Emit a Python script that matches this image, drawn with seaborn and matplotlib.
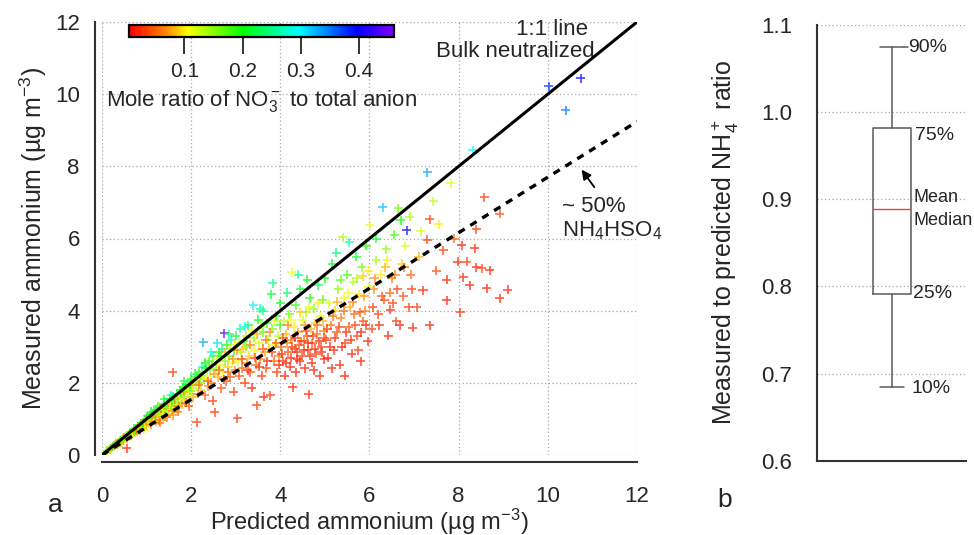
import numpy as np
import pandas as pd
import matplotlib
matplotlib.use("Agg")
import matplotlib.pyplot as plt
import seaborn as sns
from matplotlib.colors import LinearSegmentedColormap, Normalize
from matplotlib.cm import ScalarMappable

# ---------------- data ----------------
pred_nh4 = [
    0.10, 0.15, 0.18, 0.22, 0.25, 0.28, 0.30, 0.33, 0.35, 0.38, 0.40, 0.42, 0.45, 0.47, 0.50, 0.52, 0.55, 0.57,
    0.60, 0.62, 0.64, 0.66, 0.68, 0.70, 0.72, 0.74, 0.76, 0.78, 0.80, 0.82, 0.84, 0.86, 0.88, 0.90, 0.92, 0.94,
    0.96, 0.98, 0.56, 0.95, 0.35, 0.45, 0.65, 0.75, 0.85,
    1.00, 1.02, 1.05, 1.08, 1.10, 1.12, 1.15, 1.18, 1.20, 1.22, 1.25, 1.28, 1.30, 1.32, 1.35, 1.38, 1.40, 1.42,
    1.45, 1.48, 1.50, 1.52, 1.55, 1.58, 1.60, 1.62, 1.65, 1.68, 1.70, 1.72, 1.75, 1.78, 1.80, 1.82, 1.85, 1.88,
    1.90, 1.92, 1.95, 1.98, 1.25, 1.55, 1.85, 1.59, 1.45, 1.70, 1.95, 1.30, 1.60, 1.10, 1.40,
    2.00, 2.02, 2.05, 2.08, 2.10, 2.13, 2.15, 2.18, 2.20, 2.22, 2.25, 2.27, 2.28, 2.30, 2.32, 2.35, 2.38, 2.40,
    2.42, 2.45, 2.48, 2.50, 2.53, 2.55, 2.58, 2.60, 2.62, 2.65, 2.68, 2.70, 2.72, 2.74, 2.76, 2.78, 2.80, 2.82,
    2.85, 2.88, 2.90, 2.92, 2.95, 2.97, 2.99, 2.45, 2.85,
    3.00, 3.03, 3.05, 3.08, 3.10, 3.12, 3.15, 3.18, 3.20, 3.22, 3.25, 3.28, 3.30, 3.33, 3.36, 3.39, 3.40, 3.42,
    3.45, 3.47, 3.50, 3.52, 3.55, 3.58, 3.60, 3.62, 3.63, 3.65, 3.68, 3.70, 3.72, 3.75, 3.77, 3.80, 3.82, 3.85,
    3.88, 3.90, 3.92, 3.95, 3.97, 3.99, 3.83, 3.55, 3.20,
    4.00, 4.02, 4.05, 4.08, 4.10, 4.12, 4.15, 4.18, 4.20, 4.22, 4.25, 4.26, 4.28, 4.30, 4.32, 4.35, 4.38, 4.40,
    4.42, 4.45, 4.48, 4.50, 4.52, 4.55, 4.58, 4.60, 4.62, 4.64, 4.66, 4.68, 4.70, 4.72, 4.75, 4.78, 4.80, 4.82,
    4.85, 4.88, 4.90, 4.92, 4.95, 4.97, 4.99, 4.40, 4.60, 4.15, 4.35, 4.55, 4.75, 4.95,
    5.00, 5.03, 5.06, 5.10, 5.13, 5.16, 5.20, 5.23, 5.26, 5.30, 5.33, 5.36, 5.40, 5.43, 5.46, 5.50, 5.53, 5.56,
    5.60, 5.63, 5.66, 5.70, 5.73, 5.76, 5.80, 5.83, 5.86, 5.90, 5.93, 5.96, 5.98, 5.25, 5.55, 5.15, 5.45, 5.75,
    5.85, 5.35,
    6.01, 6.05, 6.10, 6.15, 6.20, 6.25, 6.30, 6.33, 6.38, 6.42, 6.46, 6.50, 6.55, 6.60, 6.64, 6.68, 6.72, 6.76,
    6.80, 6.84, 6.88, 6.92, 6.97, 6.35, 6.70, 6.15, 6.45, 6.90,
    7.06, 7.10, 7.15, 7.20, 7.29, 7.29, 7.35, 7.35, 7.43, 7.50, 7.55, 7.65, 7.73, 7.73, 7.82, 7.90, 7.98, 8.03,
    8.07, 8.10, 8.18, 8.25, 8.32, 8.36, 8.39, 8.40, 8.52, 8.57, 8.63, 8.70, 8.92, 8.92, 9.10,
    10.02, 10.40, 10.74,
    # second pass (denser parts of the cloud)
    0.12, 0.20, 0.27, 0.32, 0.37, 0.43, 0.48, 0.53, 0.58, 0.63, 0.67, 0.71, 0.77, 0.81, 0.87, 0.91, 0.97, 0.99,
    1.03, 1.07, 1.13, 1.17, 1.23, 1.27, 1.33, 1.37, 1.43, 1.47, 1.53, 1.57, 1.63, 1.67, 1.73, 1.77, 1.83, 1.87,
    1.93, 1.97,
    2.03, 2.12, 2.17, 2.23, 2.33, 2.37, 2.47, 2.52, 2.57, 2.63, 2.67, 2.73, 2.77, 2.83, 2.87, 2.93, 2.98,
    3.02, 3.07, 3.13, 3.17, 3.23, 3.27, 3.32, 3.37, 3.43, 3.48, 3.53, 3.57, 3.61, 3.67, 3.71, 3.76, 3.81, 3.86,
    3.91, 3.96,
    4.03, 4.07, 4.13, 4.17, 4.23, 4.27, 4.33, 4.37, 4.43, 4.47, 4.53, 4.57, 4.63, 4.67, 4.73, 4.77, 4.83, 4.87,
    4.93, 4.98, 4.45, 4.65, 4.85, 4.25,
    5.05, 5.12, 5.18, 5.22, 5.28, 5.32, 5.38, 5.42, 5.48, 5.52, 5.58, 5.62, 5.68, 5.72, 5.78, 5.82, 5.88, 5.92,
    5.97,
    6.07, 6.12, 6.22, 6.28, 6.40, 6.52, 6.58, 6.62, 6.78, 6.95,
]

meas_nh4 = [
    0.09, 0.14, 0.16, 0.20, 0.24, 0.25, 0.29, 0.28, 0.34, 0.33, 0.39, 0.36, 0.44, 0.40, 0.49, 0.45, 0.53, 0.47,
    0.58, 0.52, 0.63, 0.55, 0.66, 0.60, 0.73, 0.62, 0.74, 0.66, 0.80, 0.70, 0.78, 0.69, 0.88, 0.76, 0.86, 0.80,
    0.97, 0.83, 0.19, 0.70, 0.30, 0.38, 0.60, 0.68, 0.82,
    0.95, 1.08, 0.88, 1.02, 0.85, 1.15, 0.98, 1.10, 0.92, 1.25, 1.05, 0.96, 1.30, 1.12, 1.02, 1.40, 1.20, 1.08,
    1.45, 1.28, 1.15, 1.55, 1.35, 1.22, 1.62, 1.42, 1.30, 1.70, 1.48, 1.35, 1.80, 1.55, 1.40, 1.88, 1.62, 1.45,
    1.95, 1.70, 1.52, 1.78, 1.35, 1.65, 2.05, 2.30, 1.05, 1.20, 1.35, 0.90, 1.10, 1.20, 1.55,
    2.10, 1.85, 1.60, 2.25, 1.95, 0.91, 1.70, 2.30, 2.00, 1.80, 2.45, 3.13, 2.10, 1.65, 2.55, 2.20, 1.90, 2.60,
    2.35, 2.00, 1.50, 2.75, 1.19, 2.40, 3.10, 2.15, 2.85, 2.50, 1.85, 2.95, 2.30, 3.38, 2.60, 2.05, 3.05, 2.45,
    2.75, 2.15, 3.20, 2.55, 1.75, 2.90, 2.35, 2.85, 3.35,
    3.30, 1.02, 2.60, 2.20, 3.50, 2.85, 2.40, 3.15, 2.00, 3.00, 2.55, 3.60, 2.75, 2.30, 1.86, 4.15, 3.25, 2.90,
    2.50, 1.38, 3.75, 3.10, 2.65, 2.20, 4.00, 3.40, 1.61, 2.85, 2.40, 3.65, 3.20, 2.95, 1.66, 4.45, 3.50, 2.60,
    3.05, 3.85, 2.30, 3.30, 2.75, 3.60, 4.76, 4.05, 3.55,
    4.20, 3.00, 2.60, 3.70, 2.20, 3.35, 4.50, 2.85, 3.90, 2.45, 3.20, 5.07, 1.88, 3.55, 2.95, 4.15, 2.65, 3.40,
    3.05, 4.60, 2.75, 3.75, 3.15, 2.40, 3.95, 3.30, 2.90, 1.69, 4.35, 3.50, 2.55, 3.10, 4.05, 3.65, 2.80, 3.35,
    4.70, 2.20, 3.85, 3.00, 4.30, 3.45, 2.65, 5.00, 4.85, 3.10, 2.30, 3.60, 2.35, 3.70,
    4.90, 3.20, 2.70, 4.20, 3.60, 5.30, 2.90, 4.00, 3.40, 4.60, 2.50, 3.80, 6.04, 4.35, 3.10, 5.00, 3.55, 4.10,
    2.80, 4.80, 3.90, 5.50, 3.30, 4.45, 2.60, 5.20, 3.70, 4.00, 5.80, 3.15, 4.65, 5.60, 5.90, 2.40, 2.20, 2.90,
    4.95, 4.85,
    6.37, 3.50, 4.60, 5.40, 3.90, 5.00, 6.87, 4.30, 5.70, 3.30, 4.02, 4.90, 6.10, 3.70, 6.84, 3.60, 5.30, 4.40,
    5.80, 6.23, 4.10, 5.00, 3.52, 5.20, 6.50, 6.00, 4.50, 6.60,
    4.10, 5.50, 6.20, 4.57, 7.83, 5.96, 6.53, 3.60, 7.03, 5.10, 6.40, 5.68, 4.85, 4.29, 7.53, 6.00, 5.35, 3.96,
    5.81, 4.93, 5.35, 4.71, 8.44, 5.73, 6.25, 5.21, 5.17, 7.14, 4.62, 5.12, 6.69, 4.35, 4.58,
    10.22, 9.56, 10.44,
    # second pass
    0.12, 0.18, 0.27, 0.31, 0.36, 0.41, 0.46, 0.51, 0.55, 0.61, 0.64, 0.69, 0.71, 0.77, 0.84, 0.90, 0.90, 0.95,
    0.98, 1.10, 1.05, 1.20, 1.15, 1.22, 1.28, 1.25, 1.35, 1.40, 1.45, 1.52, 1.55, 1.58, 1.65, 1.72, 1.75, 1.80,
    1.85, 1.95,
    2.00, 2.15, 1.95, 2.20, 2.40, 2.05, 2.50, 2.25, 2.65, 2.35, 2.75, 2.10, 2.85, 2.30, 2.95, 2.65, 3.05,
    2.90, 3.10, 2.65, 2.95, 3.30, 2.35, 3.05, 3.45, 2.70, 3.35, 2.45, 3.55, 2.95, 3.20, 2.60, 3.40, 2.85, 3.70,
    3.10, 2.50,
    2.80, 3.25, 2.55, 3.60, 2.70, 3.00, 3.25, 2.85, 2.60, 3.15, 2.90, 3.45, 3.10, 2.75, 3.30, 2.95, 3.60, 3.15,
    2.85, 3.25, 3.95, 4.10, 4.20, 3.75,
    3.50, 3.00, 3.85, 3.25, 4.25, 3.55, 3.00, 4.00, 3.40, 4.50, 3.20, 4.25, 3.60, 4.90, 3.95, 3.40, 4.40, 3.60,
    5.10,
    4.10, 4.90, 3.60, 4.40, 5.40, 4.20, 5.00, 4.60, 5.20, 4.60,
]

no3_ratio = [
    0.12, 0.10, 0.15, 0.08, 0.18, 0.11, 0.14, 0.06, 0.20, 0.09, 0.16, 0.07, 0.13, 0.05, 0.19, 0.10, 0.15, 0.08,
    0.21, 0.12, 0.17, 0.06, 0.14, 0.10, 0.22, 0.09, 0.13, 0.07, 0.18, 0.11, 0.15, 0.05, 0.20, 0.12, 0.09, 0.16,
    0.23, 0.08, 0.02, 0.10, 0.12, 0.11, 0.13, 0.16, 0.19,
    0.14, 0.22, 0.09, 0.17, 0.07, 0.24, 0.12, 0.19, 0.08, 0.21, 0.13, 0.06, 0.23, 0.15, 0.10, 0.20, 0.16, 0.05,
    0.25, 0.13, 0.09, 0.22, 0.18, 0.07, 0.19, 0.14, 0.11, 0.24, 0.16, 0.06, 0.21, 0.12, 0.08, 0.20, 0.15, 0.04,
    0.23, 0.13, 0.09, 0.17, 0.18, 0.26, 0.22, 0.03, 0.06, 0.05, 0.04, 0.05, 0.07, 0.20, 0.21,
    0.21, 0.14, 0.08, 0.24, 0.12, 0.03, 0.06, 0.19, 0.16, 0.09, 0.26, 0.33, 0.13, 0.05, 0.22, 0.11, 0.07, 0.18,
    0.15, 0.06, 0.03, 0.23, 0.03, 0.14, 0.31, 0.08, 0.20, 0.12, 0.04, 0.25, 0.10, 0.44, 0.15, 0.05, 0.21, 0.09,
    0.17, 0.04, 0.27, 0.11, 0.03, 0.19, 0.06, 0.28, 0.24,
    0.22, 0.03, 0.10, 0.04, 0.26, 0.13, 0.05, 0.18, 0.03, 0.16, 0.07, 0.23, 0.09, 0.04, 0.02, 0.30, 0.15, 0.11,
    0.05, 0.03, 0.21, 0.12, 0.06, 0.03, 0.24, 0.17, 0.02, 0.08, 0.04, 0.19, 0.14, 0.09, 0.03, 0.22, 0.16, 0.05,
    0.10, 0.20, 0.03, 0.13, 0.06, 0.18, 0.25, 0.27, 0.29,
    0.21, 0.05, 0.03, 0.13, 0.02, 0.08, 0.24, 0.04, 0.16, 0.02, 0.06, 0.11, 0.02, 0.10, 0.03, 0.18, 0.02, 0.07,
    0.04, 0.22, 0.03, 0.12, 0.05, 0.02, 0.14, 0.04, 0.03, 0.02, 0.19, 0.08, 0.02, 0.04, 0.15, 0.09, 0.03, 0.05,
    0.23, 0.02, 0.11, 0.03, 0.17, 0.06, 0.02, 0.26, 0.20, 0.06, 0.02, 0.07, 0.02, 0.08,
    0.20, 0.03, 0.02, 0.12, 0.05, 0.22, 0.02, 0.09, 0.04, 0.15, 0.02, 0.06, 0.14, 0.11, 0.03, 0.18, 0.04, 0.08,
    0.02, 0.13, 0.05, 0.21, 0.03, 0.10, 0.02, 0.16, 0.04, 0.06, 0.19, 0.02, 0.12, 0.24, 0.26, 0.02, 0.02, 0.03,
    0.09, 0.17,
    0.11, 0.03, 0.07, 0.14, 0.03, 0.10, 0.32, 0.04, 0.15, 0.02, 0.02, 0.06, 0.18, 0.03, 0.16, 0.02, 0.09, 0.04,
    0.12, 0.40, 0.03, 0.05, 0.02, 0.08, 0.20, 0.22, 0.05, 0.14,
    0.03, 0.08, 0.12, 0.02, 0.33, 0.03, 0.03, 0.02, 0.13, 0.04, 0.10, 0.03, 0.02, 0.02, 0.12, 0.05, 0.02, 0.03,
    0.02, 0.02, 0.03, 0.02, 0.30, 0.02, 0.03, 0.02, 0.03, 0.03, 0.02, 0.02, 0.04, 0.02, 0.02,
    0.38, 0.35, 0.40,
    # second pass
    0.17, 0.09, 0.21, 0.07, 0.14, 0.19, 0.08, 0.12, 0.06, 0.16, 0.10, 0.18, 0.05, 0.13, 0.08, 0.21, 0.11, 0.07,
    0.10, 0.19, 0.06, 0.22, 0.09, 0.14, 0.05, 0.12, 0.17, 0.08, 0.11, 0.20, 0.06, 0.13, 0.09, 0.18, 0.07, 0.15,
    0.10, 0.20,
    0.09, 0.18, 0.05, 0.14, 0.20, 0.04, 0.16, 0.07, 0.12, 0.04, 0.19, 0.03, 0.08, 0.05, 0.14, 0.07, 0.10,
    0.07, 0.12, 0.03, 0.09, 0.14, 0.02, 0.06, 0.11, 0.03, 0.08, 0.02, 0.13, 0.04, 0.06, 0.02, 0.07, 0.03, 0.12,
    0.04, 0.02,
    0.02, 0.03, 0.02, 0.06, 0.02, 0.03, 0.02, 0.02, 0.02, 0.03, 0.02, 0.04, 0.02, 0.02, 0.03, 0.02, 0.05, 0.02,
    0.02, 0.03, 0.09, 0.12, 0.10, 0.11,
    0.03, 0.02, 0.05, 0.02, 0.08, 0.03, 0.02, 0.05, 0.02, 0.11, 0.02, 0.06, 0.03, 0.14, 0.04, 0.02, 0.07, 0.02,
    0.10,
    0.03, 0.07, 0.02, 0.04, 0.10, 0.03, 0.06, 0.03, 0.05, 0.03,
]

ratio_levels = ["90%", "75%", "Mean\nMedian", "25%", "10%"]
ratio_p10, ratio_p25, ratio_median, ratio_mean, ratio_p75, ratio_p90 = 0.685, 0.791, 0.889, 0.889, 0.982, 1.074

one_to_one = [0, 12]
bisulfate_slope = 0.77
cbar_ticks = [0.1, 0.2, 0.3, 0.4]

# ---------------- style ----------------
sns.set_style("white")
plt.rcParams["font.family"] = ["Liberation Sans", "DejaVu Sans"]
plt.rcParams["mathtext.fontset"] = "custom"
plt.rcParams["mathtext.rm"] = "Liberation Sans"
plt.rcParams["mathtext.it"] = "Liberation Sans"
plt.rcParams["mathtext.default"] = "regular"

W, H = 974, 535
fig = plt.figure(figsize=(W / 100, H / 100), dpi=100)

cmap = LinearSegmentedColormap.from_list(
    "no3",
    [(0.0, "#ff0000"), (0.14, "#ff8800"), (0.22, "#ffff00"), (0.43, "#00ff00"),
     (0.64, "#00ffff"), (0.86, "#0000ff"), (1.0, "#8000ff")])
norm = Normalize(vmin=0.005, vmax=0.46)

spine_col = "#333333"
grid_kw = dict(color="#a8a8a8", linestyle=(0, (1, 2)), linewidth=0.9)

# ---------------- panel a ----------------
ax = fig.add_axes([102 / W, (H - 455) / H, 535 / W, 433 / H])
df = pd.DataFrame({"pred": pred_nh4, "meas": meas_nh4, "ratio": no3_ratio})
sns.scatterplot(data=df, x="pred", y="meas", hue="ratio", palette=cmap, hue_norm=norm,
                marker="+", s=42, linewidth=1.2, alpha=0.75, legend=False, ax=ax, zorder=3)
ax.plot(one_to_one, one_to_one, color="black", lw=2.2, zorder=4)
ax.plot(one_to_one, [v * bisulfate_slope for v in one_to_one], color="black", lw=2.4,
        dashes=(2.2, 2.0), zorder=4)

ax.set_xlim(0, 12)
ax.set_ylim(0, 12)
ax.set_xticks(range(0, 13, 2))
ax.set_yticks(range(0, 13, 2))
ax.grid(True, **grid_kw)
ax.set_axisbelow(True)
for s in ["top", "right"]:
    ax.spines[s].set_visible(False)
for s in ["left", "bottom"]:
    ax.spines[s].set_position(("outward", 5))
    ax.spines[s].set_color(spine_col)
    ax.spines[s].set_linewidth(1.5)
ax.tick_params(axis="both", direction="out", length=7, width=1.4, color=spine_col, labelsize=16)
ax.tick_params(axis="x", pad=10)
ax.tick_params(axis="y", pad=4)
ax.set_xlabel("Predicted ammonium (µg m$^{-3}$)", fontsize=17, labelpad=0)
ax.set_ylabel("Measured ammonium (µg m$^{-3}$)", fontsize=18, labelpad=4)

ax.text(10.09, 11.78, "1:1 line", ha="center", va="center", fontsize=16)
ax.text(9.28, 11.18, "Bulk neutralized", ha="center", va="center", fontsize=16)
ax.text(10.31, 6.89, "~ 50%", ha="left", va="center", fontsize=16)
ax.text(10.31, 6.22, "NH$_4$HSO$_4$", ha="left", va="center", fontsize=16)
ax.annotate("", xy=(10.72, 7.97), xytext=(11.08, 7.36),
            arrowprops=dict(arrowstyle="-|>", color="black", lw=1.3, mutation_scale=14))

# colorbar
cax = fig.add_axes([129 / W, (H - 37) / H, 265 / W, 12 / H])
cb = fig.colorbar(ScalarMappable(norm=norm, cmap=cmap), cax=cax, orientation="horizontal",
                  ticks=cbar_ticks)
cb.outline.set_linewidth(1.6)
cb.outline.set_edgecolor("black")
cax.tick_params(axis="x", direction="out", length=12, width=1.4, color=spine_col,
                labelsize=15, pad=6)
cax.set_xticklabels([f"{t:.1f}" for t in cbar_ticks])
cb.set_label("Mole ratio of NO$_3^-$ to total anion", fontsize=16, labelpad=5)

fig.text(55 / W, 1 - 505 / H, "a", fontsize=19, ha="center", va="center")

# ---------------- panel b ----------------
axb = fig.add_axes([817 / W, (H - 461) / H, 149 / W, 436.4 / H])
stats = [{"med": ratio_median, "mean": ratio_mean, "q1": ratio_p25, "q3": ratio_p75,
          "whislo": ratio_p10, "whishi": ratio_p90, "fliers": [], "label": ""}]
box_col = "#5a5a5a"
axb.bxp(stats, positions=[0.503], widths=0.255, capwidths=0.16, showfliers=False,
        boxprops=dict(color=box_col, lw=1.1), whiskerprops=dict(color=box_col, lw=1.1),
        capprops=dict(color=box_col, lw=1.1), medianprops=dict(color="#e8463c", lw=1.0))
axb.set_xlim(0, 1)
axb.set_ylim(0.6, 1.1)
axb.set_yticks([0.6, 0.7, 0.8, 0.9, 1.0, 1.1])
axb.set_yticklabels(["0.6", "0.7", "0.8", "0.9", "1.0", "1.1"])
axb.set_xticks([])
axb.grid(True, axis="y", **grid_kw)
axb.set_axisbelow(True)
for s in ["top", "right"]:
    axb.spines[s].set_visible(False)
for s in ["left", "bottom"]:
    axb.spines[s].set_color(spine_col)
    axb.spines[s].set_linewidth(1.5)
axb.tick_params(axis="y", direction="out", length=12, width=1.4, color=spine_col,
                labelsize=16, pad=6)
axb.set_ylabel("Measured to predicted NH$_4^+$ ratio", fontsize=18, labelpad=14)

lab_x = [0.61, 0.66, 0.645, 0.645, 0.635]
lab_y = [1.074, 0.973, 0.889, 0.792, 0.683]
lab_fs = [14, 14, 13, 14, 14]
axb.plot([0.583, 0.61], [ratio_p90, ratio_p90], color=box_col, lw=1.1)
for t, xx, yy, fs in zip(ratio_levels, lab_x, lab_y, lab_fs):
    axb.text(xx, yy, t, ha="left", va="center", fontsize=fs, linespacing=1.5)

fig.text(725 / W, 1 - 500 / H, "b", fontsize=19, ha="center", va="center")

fig.savefig("out.png", dpi=100)
